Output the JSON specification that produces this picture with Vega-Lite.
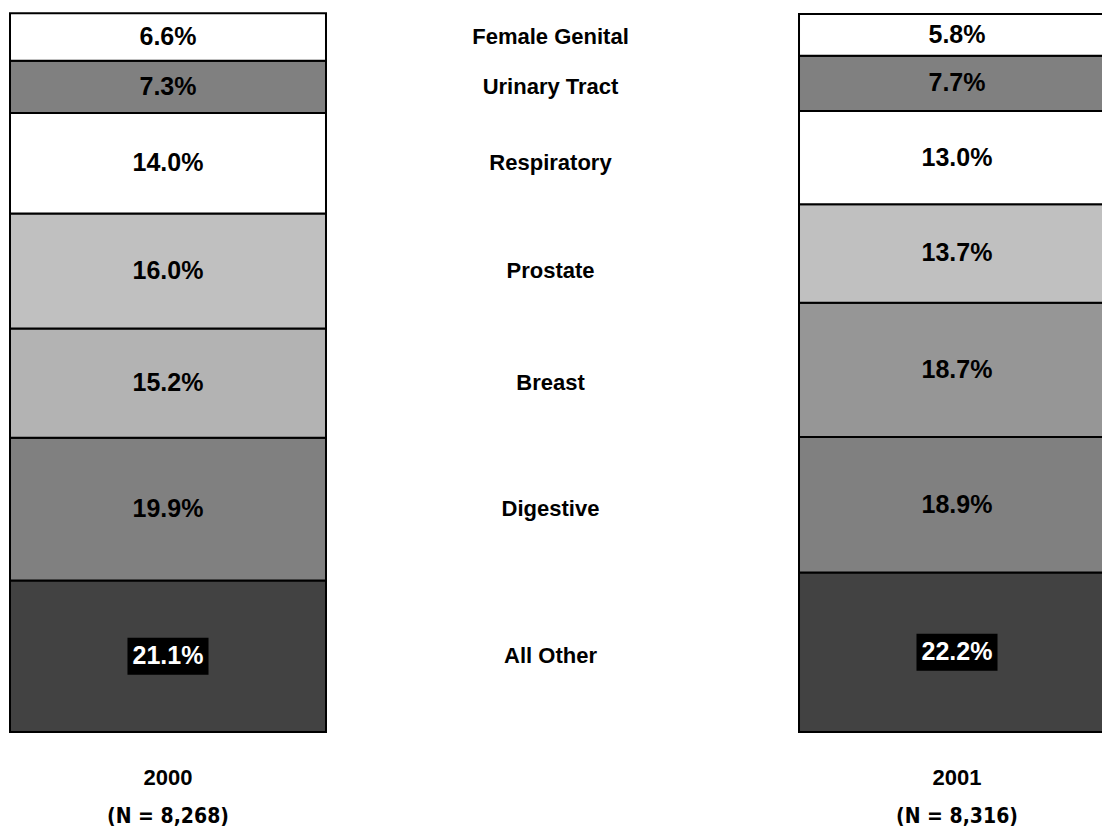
{
  "$schema": "https://vega.github.io/schema/vega-lite/v6.json",
  "width": 1102,
  "height": 838,
  "autosize": {"type": "fit", "contains": "padding"},
  "padding": 0,
  "background": "white",
  "view": {"stroke": null},
  "datasets": {
    "segments": [
      {"year": "2000", "category": "All Other", "pct": 21.1, "rank": 1},
      {"year": "2000", "category": "Digestive", "pct": 19.9, "rank": 2},
      {"year": "2000", "category": "Breast", "pct": 15.2, "rank": 3},
      {"year": "2000", "category": "Prostate", "pct": 16.0, "rank": 4},
      {"year": "2000", "category": "Respiratory", "pct": 14.0, "rank": 5},
      {"year": "2000", "category": "Urinary Tract", "pct": 7.3, "rank": 6},
      {"year": "2000", "category": "Female Genital", "pct": 6.6, "rank": 7},
      {"year": "2001", "category": "All Other", "pct": 22.2, "rank": 1},
      {"year": "2001", "category": "Digestive", "pct": 18.9, "rank": 2},
      {"year": "2001", "category": "Breast", "pct": 18.7, "rank": 3},
      {"year": "2001", "category": "Prostate", "pct": 13.7, "rank": 4},
      {"year": "2001", "category": "Respiratory", "pct": 13.0, "rank": 5},
      {"year": "2001", "category": "Urinary Tract", "pct": 7.7, "rank": 6},
      {"year": "2001", "category": "Female Genital", "pct": 5.8, "rank": 7}
    ],
    "years": [
      {"year": "2000", "n": "(N = 8,268)"},
      {"year": "2001", "n": "(N = 8,316)"}
    ]
  },
  "data": {"name": "segments"},
  "transform": [
    {"stack": "pct", "groupby": ["year"], "sort": [{"field": "rank", "order": "ascending"}], "as": ["y0", "y1"]},
    {"calculate": "(datum.y0 + datum.y1) / 2", "as": "mid"},
    {"calculate": "format(datum.pct, '.1f') + '%'", "as": "label"}
  ],
  "layer": [
    {
      "mark": {"type": "bar", "stroke": "black", "strokeWidth": 2},
      "encoding": {
        "x": {"field": "year", "type": "nominal", "axis": null,
              "scale": {"domain": ["2000", "mid", "2001"], "range": [10, 1115], "paddingInner": 0.199, "paddingOuter": 0}},
        "y": {"field": "y0", "type": "quantitative", "axis": null, "scale": {"domain": [-14.76, 101.95], "nice": false, "zero": false}},
        "y2": {"field": "y1"},
        "color": {
          "condition": {"test": "datum.year == '2000' && datum.category == 'Breast'", "value": "#b3b3b3"},
          "field": "category", "type": "nominal", "legend": null,
          "scale": {
            "domain": ["All Other", "Digestive", "Breast", "Prostate", "Respiratory", "Urinary Tract", "Female Genital"],
            "range": ["#424242", "#808080", "#969696", "#c0c0c0", "#ffffff", "#808080", "#ffffff"]
          }
        }
      }
    },
    {
      "transform": [{"filter": "datum.category == 'All Other'"}],
      "mark": {"type": "point", "shape": "M-2.19,-1H2.19V1H-2.19Z", "filled": true, "fill": "black", "stroke": null, "strokeWidth": 0, "opacity": 1, "fillOpacity": 1, "size": 1369},
      "encoding": {
        "x": {"field": "year", "type": "nominal"},
        "y": {"field": "mid", "type": "quantitative"}
      }
    },
    {
      "mark": {"type": "text", "font": "Liberation Sans", "fontWeight": "bold", "fontSize": 25, "baseline": "middle", "align": "center"},
      "encoding": {
        "x": {"field": "year", "type": "nominal"},
        "y": {"field": "mid", "type": "quantitative"},
        "text": {"field": "label"},
        "color": {"condition": {"test": "datum.category == 'All Other'", "value": "white"}, "value": "black"}
      }
    },
    {
      "transform": [{"filter": "datum.year == '2000'"}],
      "mark": {"type": "text", "font": "Liberation Sans", "fontWeight": "bold", "fontSize": 22, "baseline": "middle", "align": "center", "dx": -12, "color": "black"},
      "encoding": {
        "x": {"datum": "mid", "type": "nominal"},
        "y": {"field": "mid", "type": "quantitative"},
        "text": {"field": "category"}
      }
    },
    {
      "data": {"name": "years"},
      "mark": {"type": "text", "font": "Liberation Sans", "fontWeight": "bold", "fontSize": 22, "baseline": "middle", "align": "center", "color": "black"},
      "encoding": {
        "x": {"field": "year", "type": "nominal"},
        "y": {"datum": -6.4, "type": "quantitative"},
        "text": {"field": "year"}
      }
    },
    {
      "data": {"name": "years"},
      "mark": {"type": "text", "font": "DejaVu Sans Condensed, Liberation Sans, sans-serif", "fontWeight": "bold", "fontSize": 21, "baseline": "middle", "align": "center", "color": "black"},
      "encoding": {
        "x": {"field": "year", "type": "nominal"},
        "y": {"datum": -11.8, "type": "quantitative"},
        "text": {"field": "n"}
      }
    }
  ]
}
